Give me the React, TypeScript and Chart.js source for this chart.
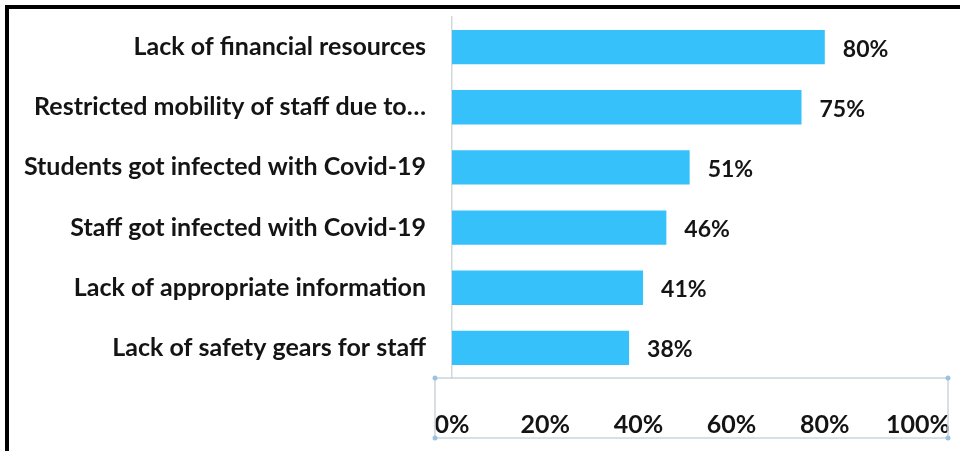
import React, { useEffect, useRef } from "react";
import { Chart, registerables } from "chart.js";

Chart.register(...registerables);

const categories: string[] = [
  "Lack of financial resources",
  "Restricted mobility of staff due to…",
  "Students got infected with Covid-19",
  "Staff got infected with Covid-19",
  "Lack of appropriate information",
  "Lack of safety gears for staff",
];
const values: number[] = [80, 75, 51, 46, 41, 38];
const xTicks: number[] = [0, 20, 40, 60, 80, 100];

const FONT = "Lato, 'Open Sans', sans-serif";
const TEXT = "#141414";
const BAR = "#36C1FB";

const valueLabels = {
  id: "valueLabels",
  afterDatasetsDraw(chart: any) {
    const ctx = chart.ctx;
    const meta = chart.getDatasetMeta(0);
    ctx.save();
    ctx.font = `bold 23px ${FONT}`;
    ctx.fillStyle = TEXT;
    ctx.textAlign = "left";
    ctx.textBaseline = "middle";
    meta.data.forEach((bar: any, i: number) => {
      ctx.fillText(`${values[i]}%`, bar.x + 18, bar.y + 2);
    });
    ctx.restore();
  },
};

const axisBox = {
  id: "axisBox",
  afterDraw(chart: any) {
    const { ctx, chartArea } = chart;
    const l = chartArea.left - 17;
    const r = chartArea.right + 30;
    const t = chartArea.bottom;
    const b = chartArea.bottom + 60;
    ctx.save();
    ctx.strokeStyle = "#c9d6dc";
    ctx.lineWidth = 1.5;
    ctx.strokeRect(l, t, r - l, b - t);
    ctx.fillStyle = "#9cc3dc";
    [[l, t], [r, t], [l, b], [r, b]].forEach(([x, y]) => {
      ctx.beginPath();
      ctx.arc(x, y, 2.5, 0, Math.PI * 2);
      ctx.fill();
    });
    ctx.restore();
  },
};

export default function App() {
  const ref = useRef<HTMLCanvasElement | null>(null);

  useEffect(() => {
    if (!ref.current) return;
    const chart = new Chart(ref.current, {
      type: "bar",
      data: {
        labels: categories,
        datasets: [
          {
            data: values,
            backgroundColor: BAR,
            borderWidth: 0,
            barPercentage: 0.57,
            categoryPercentage: 1,
          },
        ],
      },
      options: {
        indexAxis: "y",
        animation: false,
        responsive: false,
        maintainAspectRatio: false,
        layout: { padding: { top: 17, right: 42, left: 0, bottom: 0 } },
        plugins: {
          legend: { display: false },
          tooltip: { enabled: false },
        },
        scales: {
          x: {
            min: 0,
            max: 100,
            afterBuildTicks: (scale: any) => {
              scale.ticks = xTicks.map((v) => ({ value: v }));
            },
            afterFit: (scale: any) => {
              scale.height = 73;
              scale.paddingLeft = 0;
              scale.paddingRight = 0;
            },
            grid: { display: false, drawTicks: false },
            border: { display: false },
            ticks: {
              padding: 32,
              color: TEXT,
              font: { family: FONT, size: 25, weight: "bold" },
              callback: (v: any) => `${v}%`,
              maxRotation: 0,
            },
          },
          y: {
            afterFit: (scale: any) => {
              scale.width = 452;
              scale.paddingTop = 0;
              scale.paddingBottom = 0;
            },
            grid: { display: false, drawTicks: false },
            border: { display: true, color: "#d4d8da", width: 1.5 },
            ticks: {
              padding: 26,
              color: TEXT,
              font: { family: FONT, size: 25, weight: "bold" },
            },
          },
        },
      },
      plugins: [valueLabels, axisBox],
    });
    return () => chart.destroy();
  }, []);

  return (
    <div style={{ position: "fixed", left: 0, top: 0, width: 960, height: 451, background: "#fff", overflow: "hidden" }}>
      <canvas ref={ref} width={960} height={451} style={{ position: "absolute", left: 0, top: 0, width: 960, height: 451 }} />
      <div style={{ position: "absolute", left: 5, top: 5, width: 960, height: 451, borderTop: "4px solid #000", borderLeft: "4px solid #000", boxSizing: "border-box", pointerEvents: "none" }} />
    </div>
  );
}
